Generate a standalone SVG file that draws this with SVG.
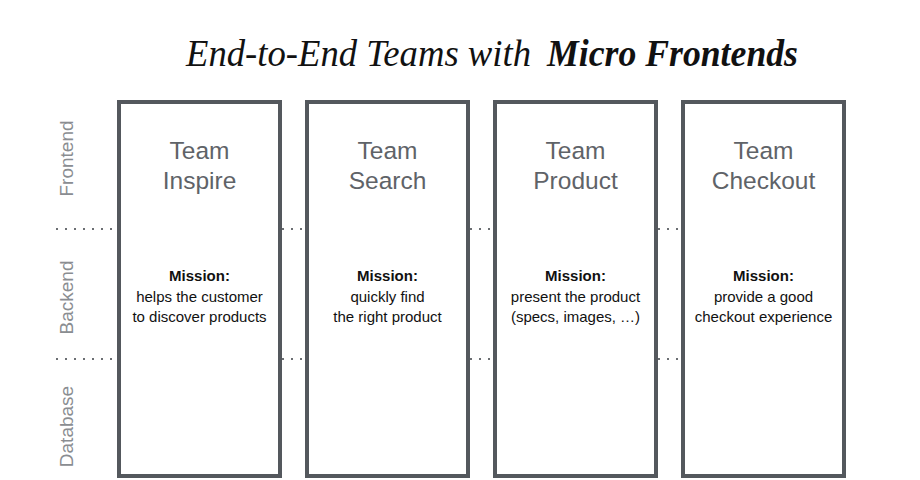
<svg xmlns="http://www.w3.org/2000/svg" width="920" height="480" viewBox="0 0 920 480">
<style>
  .box{fill:#fff;stroke:#54585d;stroke-width:4}
  .dots{stroke:#6b6e72;stroke-width:2.2;stroke-dasharray:2 7;fill:none}
  .layer{font-family:"Liberation Sans",Arial,sans-serif;font-size:19px;fill:#8a8d91;text-anchor:middle}
  .team{font-family:"Liberation Sans",Arial,sans-serif;font-size:24.5px;fill:#5f6368;text-anchor:middle}
  .mis{font-family:"Liberation Sans",Arial,sans-serif;font-size:15px;fill:#111;text-anchor:middle}
  .misb{font-weight:bold}
  .title{font-family:"Liberation Serif","DejaVu Serif",serif;font-style:italic;font-size:38px;fill:#111}
</style>
<rect width="920" height="480" fill="#fff"/>
<text class="title" y="66"><tspan x="186" textLength="345" lengthAdjust="spacingAndGlyphs">End-to-End Teams with</tspan><tspan x="547" font-weight="bold" textLength="251" lengthAdjust="spacingAndGlyphs">Micro Frontends</tspan></text>
<g id="layers">
  <text class="layer" transform="translate(73,158.5) rotate(-90)">Frontend</text>
  <text class="layer" transform="translate(73,297.5) rotate(-90)">Backend</text>
  <text class="layer" transform="translate(73,426.5) rotate(-90)">Database</text>
</g>
<g id="connectors">
  <path class="dots" d="M56 229H116M282 229H306M470 229H494M658 229H682M56 359H116M282 359H306M470 359H494M658 359H682"/>
</g>
<g id="team-inspire">
  <rect class="box" x="119" y="102" width="161" height="374"/>
  <text class="team" x="199.5" y="159">Team</text>
  <text class="team" x="199.5" y="189">Inspire</text>
  <text class="mis" x="199.5" y="281"><tspan class="misb">Mission:</tspan><tspan x="199.5" y="301.5">helps the customer</tspan><tspan x="199.5" y="321.5">to discover products</tspan></text>
</g>
<g id="team-search">
  <rect class="box" x="307" y="102" width="161" height="374"/>
  <text class="team" x="387.5" y="159">Team</text>
  <text class="team" x="387.5" y="189">Search</text>
  <text class="mis" x="387.5" y="281"><tspan class="misb">Mission:</tspan><tspan x="387.5" y="301.5">quickly find</tspan><tspan x="387.5" y="321.5">the right product</tspan></text>
</g>
<g id="team-product">
  <rect class="box" x="495" y="102" width="161" height="374"/>
  <text class="team" x="575.5" y="159">Team</text>
  <text class="team" x="575.5" y="189">Product</text>
  <text class="mis" x="575.5" y="281"><tspan class="misb">Mission:</tspan><tspan x="575.5" y="301.5">present the product</tspan><tspan x="575.5" y="321.5">(specs, images, …)</tspan></text>
</g>
<g id="team-checkout">
  <rect class="box" x="683" y="102" width="161" height="374"/>
  <text class="team" x="763.5" y="159">Team</text>
  <text class="team" x="763.5" y="189">Checkout</text>
  <text class="mis" x="763.5" y="281"><tspan class="misb">Mission:</tspan><tspan x="763.5" y="301.5">provide a good</tspan><tspan x="763.5" y="321.5">checkout experience</tspan></text>
</g>
</svg>
